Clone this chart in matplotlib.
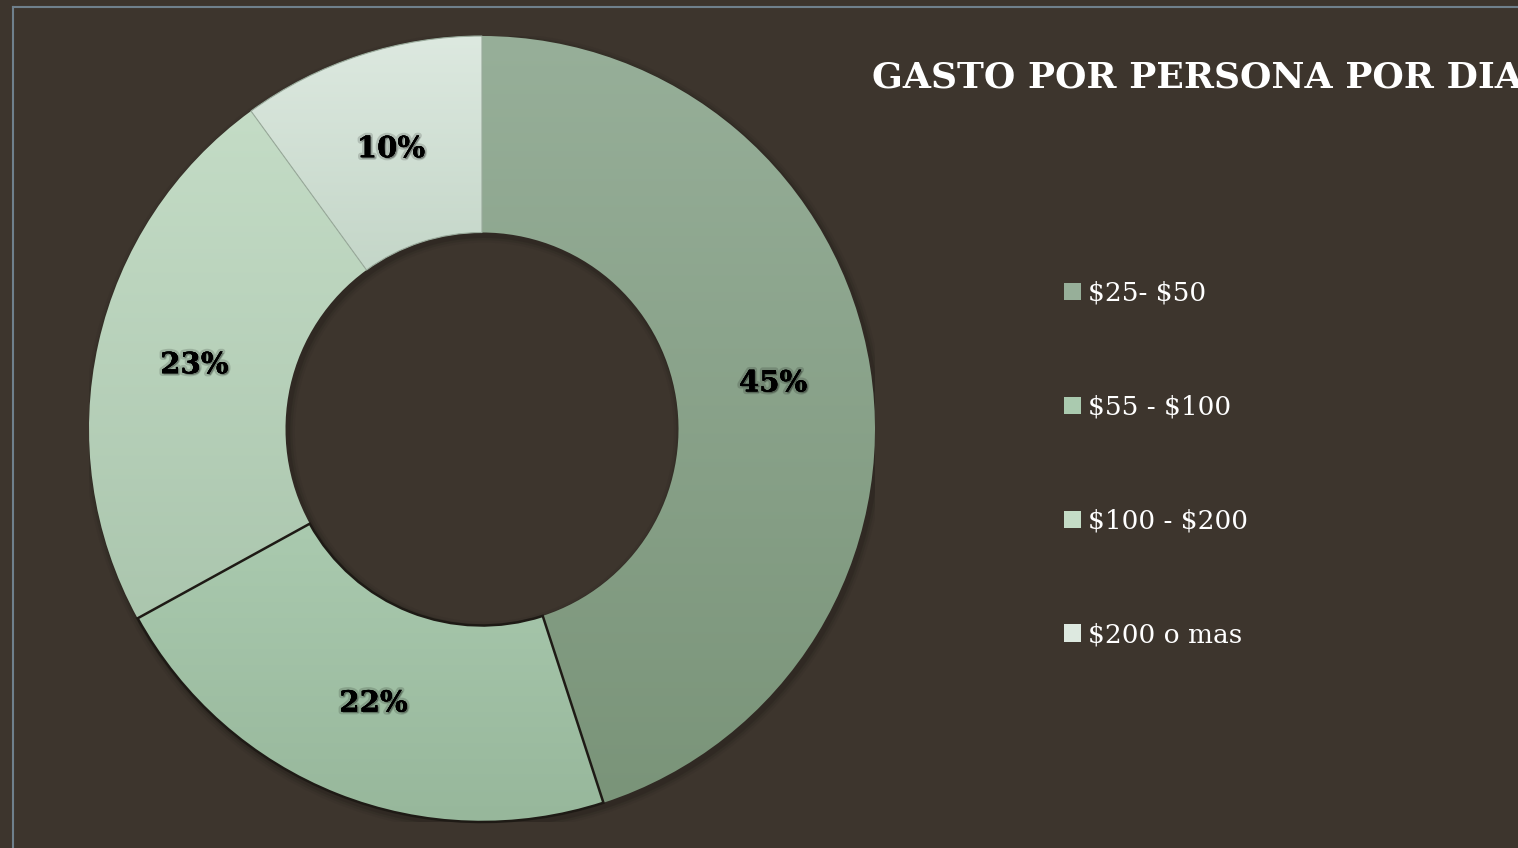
import matplotlib
matplotlib.use("Agg")
import matplotlib.pyplot as plt
import matplotlib.patheffects as pe
from matplotlib.lines import Line2D
from matplotlib.patches import Wedge
import numpy as np
from matplotlib.colors import to_rgb

# data
labels = ["$25- $50", "$55 - $100", "$100 - $200", "$200 o mas"]
values = [45, 22, 23, 10]
top_colors = ["#97af99", "#aacaaf", "#c4dcc6", "#dde9e0"]
bottom_colors = ["#7a9479", "#97b79b", "#abc6ae", "#c4d6c8"]

bg = "#3d352d"
plt.rcParams["font.family"] = ["DejaVu Serif"]
plt.rcParams["text.parse_math"] = False  # dollar signs are literal

W, H = 1518, 848
fig = plt.figure(figsize=(W / 100, H / 100), dpi=100, facecolor=bg)

# donut centre and radius in pixels
cx, cy, r = 482, 429, 393
ax = fig.add_axes([(cx - r) / W, (H - cy - r) / H, 2 * r / W, 2 * r / H])
ax.set_facecolor(bg)

wedges, texts, pcts = ax.pie(values, colors=top_colors, startangle=90, counterclock=False,
                             radius=1, wedgeprops=dict(width=0.5, linewidth=0),
                             autopct="%1.0f%%", pctdistance=0.75,
                             textprops=dict(color="black", fontsize=21, fontweight="bold"))
for t in pcts:
    t.set_zorder(10)
    t.set_path_effects([pe.withStroke(linewidth=4, foreground=(0, 0, 0, 0.15)),
                        pe.withSimplePatchShadow(offset=(1, -1), shadow_rgbFace="black", alpha=0.3),
                        pe.Normal()])

# legend before swapping faces for gradients
leg = fig.legend(wedges, labels, loc="upper left", bbox_to_anchor=(1040 / W, 1 - 257 / H),
                 frameon=False, fontsize=19, labelcolor="white", handlelength=0.65,
                 handleheight=0.65, handletextpad=0.25, labelspacing=3.37)

# soft shadow under the ring
for k, a in enumerate([0.10, 0.07, 0.04]):
    sh = Wedge((0.006, -0.008), 1.0 + 0.006 * (k + 1), 0, 360, width=0.5 + 0.012 * (k + 1),
               facecolor="black", alpha=a, linewidth=0, zorder=0)
    ax.add_patch(sh)

# vertical gradient fill for each slice
for w, ct, cb in zip(wedges, top_colors, bottom_colors):
    ext = w.get_path().get_extents()
    c1, c2 = np.array(to_rgb(ct)), np.array(to_rgb(cb))
    f = np.linspace(0, 1, 256)[:, None]
    img = (c1 * (1 - f) + c2 * f)[:, None, :]
    im = ax.imshow(img, extent=[ext.x0, ext.x1, ext.y0, ext.y1], aspect="auto",
                   zorder=1, interpolation="bilinear")
    im.set_clip_path(w)
    w.set_facecolor("none")
    w.set_zorder(2)

wedges[1].set_edgecolor("#1e1a15")
wedges[1].set_linewidth(1.8)
wedges[3].set_edgecolor("#9aab9c")
wedges[3].set_linewidth(0.8)

ax.set_xlim(-1, 1)
ax.set_ylim(-1, 1)
ax.set_aspect("equal")
ax.axis("off")

fig.text(872 / W, 1 - 88 / H, "GASTO POR PERSONA POR DIA", color="white", fontsize=26,
         fontweight="bold", va="baseline", ha="left")

# outer frame
fig.add_artist(Line2D([12.5 / W, 12.5 / W], [0, 1 - 6.5 / H], color="#6f808c", lw=1.5))
fig.add_artist(Line2D([12.5 / W, 1], [1 - 6.5 / H, 1 - 6.5 / H], color="#6f808c", lw=1.5))

fig.savefig("out.png", dpi=100, facecolor=bg)
